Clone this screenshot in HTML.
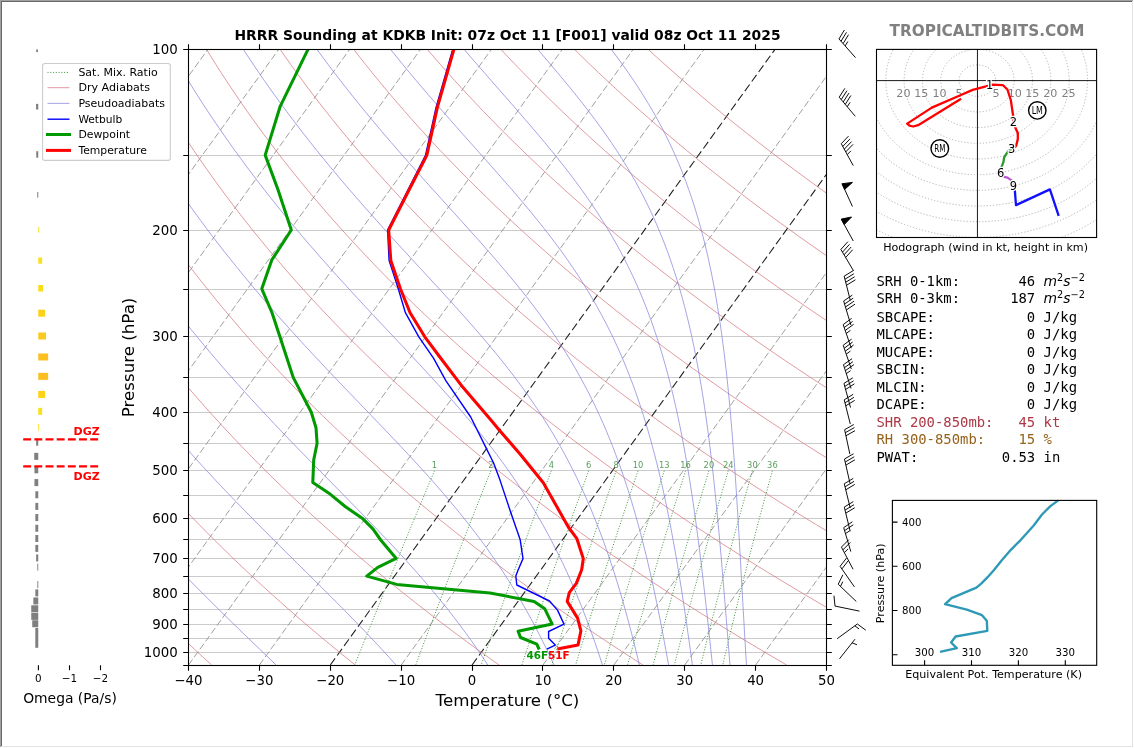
<!DOCTYPE html>
<html><head><meta charset="utf-8"><title>HRRR Sounding at KDKB</title>
<style>
html,body{margin:0;padding:0;background:#fff;}
body{width:1134px;height:748px;position:relative;overflow:hidden;font-family:"DejaVu Sans","Liberation Sans",sans-serif;}
.fr{position:absolute;background:#fff}
</style></head><body>
<div class="fr" style="left:0;top:0;width:1134px;height:748px;background:#ffffff"></div>
<div class="fr" style="left:0;top:0;width:1133px;height:747px;background:#a0a0a0"></div>
<div class="fr" style="left:1px;top:1px;width:1132px;height:746px;background:#e3e3e3"></div>
<div class="fr" style="left:1px;top:1px;width:1131px;height:745px;background:#696969"></div>
<div class="fr" style="left:2px;top:2px;width:1130px;height:744px;background:#ffffff"></div>
<svg width="1134" height="748" viewBox="0 0 1134 748" style="position:absolute;left:0;top:0;will-change:transform">
<defs><clipPath id="cm"><rect x="188.50" y="49.15" width="638.00" height="615.88"/></clipPath></defs>
<g clip-path="url(#cm)" fill="none">
<line x1="188.50" y1="155.50" x2="826.50" y2="155.50" stroke="#cbcbcb" stroke-width="1"/>
<line x1="188.50" y1="230.50" x2="826.50" y2="230.50" stroke="#cbcbcb" stroke-width="1"/>
<line x1="188.50" y1="289.50" x2="826.50" y2="289.50" stroke="#cbcbcb" stroke-width="1"/>
<line x1="188.50" y1="336.50" x2="826.50" y2="336.50" stroke="#cbcbcb" stroke-width="1"/>
<line x1="188.50" y1="377.50" x2="826.50" y2="377.50" stroke="#cbcbcb" stroke-width="1"/>
<line x1="188.50" y1="412.50" x2="826.50" y2="412.50" stroke="#cbcbcb" stroke-width="1"/>
<line x1="188.50" y1="443.50" x2="826.50" y2="443.50" stroke="#cbcbcb" stroke-width="1"/>
<line x1="188.50" y1="470.50" x2="826.50" y2="470.50" stroke="#cbcbcb" stroke-width="1"/>
<line x1="188.50" y1="495.50" x2="826.50" y2="495.50" stroke="#cbcbcb" stroke-width="1"/>
<line x1="188.50" y1="518.50" x2="826.50" y2="518.50" stroke="#cbcbcb" stroke-width="1"/>
<line x1="188.50" y1="539.50" x2="826.50" y2="539.50" stroke="#cbcbcb" stroke-width="1"/>
<line x1="188.50" y1="558.50" x2="826.50" y2="558.50" stroke="#cbcbcb" stroke-width="1"/>
<line x1="188.50" y1="576.50" x2="826.50" y2="576.50" stroke="#cbcbcb" stroke-width="1"/>
<line x1="188.50" y1="593.50" x2="826.50" y2="593.50" stroke="#cbcbcb" stroke-width="1"/>
<line x1="188.50" y1="609.50" x2="826.50" y2="609.50" stroke="#cbcbcb" stroke-width="1"/>
<line x1="188.50" y1="624.50" x2="826.50" y2="624.50" stroke="#cbcbcb" stroke-width="1"/>
<line x1="188.50" y1="638.50" x2="826.50" y2="638.50" stroke="#cbcbcb" stroke-width="1"/>
<line x1="188.50" y1="652.50" x2="826.50" y2="652.50" stroke="#cbcbcb" stroke-width="1"/>
<line x1="-307.72" y1="665.03" x2="137.13" y2="49.15" stroke="#8f8f8f" stroke-width="0.85" stroke-dasharray="6.9 2.8"/>
<line x1="-236.83" y1="665.03" x2="208.02" y2="49.15" stroke="#8f8f8f" stroke-width="0.85" stroke-dasharray="6.9 2.8"/>
<line x1="-165.94" y1="665.03" x2="278.91" y2="49.15" stroke="#8f8f8f" stroke-width="0.85" stroke-dasharray="6.9 2.8"/>
<line x1="-95.06" y1="665.03" x2="349.79" y2="49.15" stroke="#8f8f8f" stroke-width="0.85" stroke-dasharray="6.9 2.8"/>
<line x1="-24.17" y1="665.03" x2="420.68" y2="49.15" stroke="#8f8f8f" stroke-width="0.85" stroke-dasharray="6.9 2.8"/>
<line x1="46.72" y1="665.03" x2="491.57" y2="49.15" stroke="#8f8f8f" stroke-width="0.85" stroke-dasharray="6.9 2.8"/>
<line x1="117.61" y1="665.03" x2="562.46" y2="49.15" stroke="#8f8f8f" stroke-width="0.85" stroke-dasharray="6.9 2.8"/>
<line x1="188.50" y1="665.03" x2="633.35" y2="49.15" stroke="#8f8f8f" stroke-width="0.85" stroke-dasharray="6.9 2.8"/>
<line x1="259.39" y1="665.03" x2="704.24" y2="49.15" stroke="#8f8f8f" stroke-width="0.85" stroke-dasharray="6.9 2.8"/>
<line x1="330.28" y1="665.03" x2="775.13" y2="49.15" stroke="#202020" stroke-width="1.08" stroke-dasharray="8.2 3.6"/>
<line x1="401.17" y1="665.03" x2="846.02" y2="49.15" stroke="#8f8f8f" stroke-width="0.85" stroke-dasharray="6.9 2.8"/>
<line x1="472.06" y1="665.03" x2="916.91" y2="49.15" stroke="#202020" stroke-width="1.08" stroke-dasharray="8.2 3.6"/>
<line x1="542.94" y1="665.03" x2="987.79" y2="49.15" stroke="#8f8f8f" stroke-width="0.85" stroke-dasharray="6.9 2.8"/>
<line x1="613.83" y1="665.03" x2="1058.68" y2="49.15" stroke="#8f8f8f" stroke-width="0.85" stroke-dasharray="6.9 2.8"/>
<line x1="684.72" y1="665.03" x2="1129.57" y2="49.15" stroke="#8f8f8f" stroke-width="0.85" stroke-dasharray="6.9 2.8"/>
<line x1="755.61" y1="665.03" x2="1200.46" y2="49.15" stroke="#8f8f8f" stroke-width="0.85" stroke-dasharray="6.9 2.8"/>
<line x1="826.50" y1="665.03" x2="1271.35" y2="49.15" stroke="#8f8f8f" stroke-width="0.85" stroke-dasharray="6.9 2.8"/>
<polyline points="211.63,665.03 203.11,657.23 194.72,649.44 186.44,641.64 178.28,633.85 170.23,626.05 162.31,618.25 154.49,610.46 146.79,602.66 139.20,594.87 131.73,587.07 124.36,579.27 117.11,571.48 109.96,563.68 102.92,555.89 95.99,548.09 89.16,540.29 82.44,532.50 75.82,524.70 69.31,516.91 62.90,509.11 56.59,501.32 50.38,493.52 44.27,485.72 38.26,477.93 32.35,470.13 26.54,462.34 20.82,454.54 15.20,446.74 9.67,438.95 4.24,431.15 -1.10,423.36 -6.34,415.56 -11.50,407.76 -16.56,399.97 -21.53,392.17 -26.42,384.38 -31.21,376.58 -35.92,368.78 -40.54,360.99 -45.07,353.19 -49.52,345.40 -53.88,337.60 -58.16,329.80 -62.35,322.01 -66.47,314.21 -70.49,306.42 -74.44,298.62 -78.31,290.82 -82.09,283.03 -85.80,275.23 -89.43,267.44 -92.98,259.64 -96.45,251.84 -99.85,244.05 -103.17,236.25 -106.41,228.46 -109.58,220.66 -112.68,212.86 -115.70,205.07 -118.64,197.27 -121.52,189.48 -124.32,181.68 -127.06,173.89 -129.72,166.09 -132.31,158.29 -134.83,150.50 -137.29,142.70 -139.67,134.91 -141.99,127.11 -144.24,119.31 -146.42,111.52 -148.54,103.72 -150.60,95.93 -152.58,88.13 -154.51,80.33 -156.37,72.54 -158.16,64.74 -159.90,56.95 -161.57,49.15" stroke="#d4737a" stroke-width="0.72"/>
<polyline points="355.39,665.03 345.66,657.23 336.06,649.44 326.59,641.64 317.25,633.85 308.03,626.05 298.94,618.25 289.97,610.46 281.13,602.66 272.41,594.87 263.80,587.07 255.32,579.27 246.96,571.48 238.72,563.68 230.59,555.89 222.58,548.09 214.69,540.29 206.91,532.50 199.24,524.70 191.69,516.91 184.24,509.11 176.91,501.32 169.68,493.52 162.57,485.72 155.56,477.93 148.66,470.13 141.86,462.34 135.17,454.54 128.59,446.74 122.10,438.95 115.72,431.15 109.44,423.36 103.26,415.56 97.18,407.76 91.20,399.97 85.32,392.17 79.53,384.38 73.84,376.58 68.25,368.78 62.75,360.99 57.35,353.19 52.04,345.40 46.82,337.60 41.69,329.80 36.65,322.01 31.70,314.21 26.85,306.42 22.08,298.62 17.40,290.82 12.80,283.03 8.29,275.23 3.87,267.44 -0.47,259.64 -4.72,251.84 -8.89,244.05 -12.98,236.25 -16.98,228.46 -20.91,220.66 -24.75,212.86 -28.51,205.07 -32.20,197.27 -35.80,189.48 -39.33,181.68 -42.78,173.89 -46.15,166.09 -49.45,158.29 -52.67,150.50 -55.82,142.70 -58.89,134.91 -61.89,127.11 -64.82,119.31 -67.67,111.52 -70.46,103.72 -73.17,95.93 -75.81,88.13 -78.38,80.33 -80.88,72.54 -83.32,64.74 -85.68,56.95 -87.98,49.15" stroke="#d4737a" stroke-width="0.72"/>
<polyline points="499.15,665.03 488.21,657.23 477.40,649.44 466.74,641.64 456.21,633.85 445.83,626.05 435.57,618.25 425.45,610.46 415.46,602.66 405.61,594.87 395.88,587.07 386.29,579.27 376.82,571.48 367.48,563.68 358.27,555.89 349.18,548.09 340.22,540.29 331.38,532.50 322.66,524.70 314.06,516.91 305.58,509.11 297.23,501.32 288.99,493.52 280.86,485.72 272.86,477.93 264.97,470.13 257.19,462.34 249.53,454.54 241.97,446.74 234.53,438.95 227.20,431.15 219.98,423.36 212.87,415.56 205.86,407.76 198.97,399.97 192.17,392.17 185.49,384.38 178.90,376.58 172.42,368.78 166.04,360.99 159.77,353.19 153.59,345.40 147.51,337.60 141.54,329.80 135.66,322.01 129.87,314.21 124.19,306.42 118.60,298.62 113.10,290.82 107.70,283.03 102.39,275.23 97.17,267.44 92.05,259.64 87.01,251.84 82.07,244.05 77.21,236.25 72.45,228.46 67.77,220.66 63.18,212.86 58.67,205.07 54.25,197.27 49.92,189.48 45.67,181.68 41.50,173.89 37.41,166.09 33.41,158.29 29.49,150.50 25.65,142.70 21.89,134.91 18.21,127.11 14.60,119.31 11.08,111.52 7.63,103.72 4.26,95.93 0.96,88.13 -2.26,80.33 -5.40,72.54 -8.47,64.74 -11.47,56.95 -14.39,49.15" stroke="#d4737a" stroke-width="0.72"/>
<polyline points="642.91,665.03 630.76,657.23 618.75,649.44 606.89,641.64 595.18,633.85 583.62,626.05 572.20,618.25 560.93,610.46 549.80,602.66 538.81,594.87 527.96,587.07 517.25,579.27 506.68,571.48 496.24,563.68 485.94,555.89 475.78,548.09 465.74,540.29 455.84,532.50 446.08,524.70 436.44,516.91 426.93,509.11 417.55,501.32 408.29,493.52 399.16,485.72 390.16,477.93 381.27,470.13 372.51,462.34 363.88,454.54 355.36,446.74 346.96,438.95 338.68,431.15 330.52,423.36 322.48,415.56 314.55,407.76 306.73,399.97 299.03,392.17 291.44,384.38 283.96,376.58 276.59,368.78 269.34,360.99 262.19,353.19 255.15,345.40 248.21,337.60 241.38,329.80 234.66,322.01 228.04,314.21 221.53,306.42 215.12,298.62 208.81,290.82 202.60,283.03 196.49,275.23 190.47,267.44 184.56,259.64 178.75,251.84 173.03,244.05 167.41,236.25 161.88,228.46 156.44,220.66 151.10,212.86 145.86,205.07 140.70,197.27 135.64,189.48 130.66,181.68 125.78,173.89 120.98,166.09 116.27,158.29 111.65,150.50 107.12,142.70 102.67,134.91 98.30,127.11 94.03,119.31 89.83,111.52 85.72,103.72 81.69,95.93 77.74,88.13 73.87,80.33 70.08,72.54 66.38,64.74 62.75,56.95 59.19,49.15" stroke="#d4737a" stroke-width="0.72"/>
<polyline points="786.67,665.03 773.30,657.23 760.09,649.44 747.04,641.64 734.15,633.85 721.42,626.05 708.84,618.25 696.41,610.46 684.13,602.66 672.01,594.87 660.04,587.07 648.21,579.27 636.53,571.48 625.00,563.68 613.62,555.89 602.37,548.09 591.27,540.29 580.31,532.50 569.49,524.70 558.81,516.91 548.27,509.11 537.86,501.32 527.59,493.52 517.46,485.72 507.45,477.93 497.58,470.13 487.84,462.34 478.23,454.54 468.75,446.74 459.39,438.95 450.16,431.15 441.06,423.36 432.08,415.56 423.23,407.76 414.49,399.97 405.88,392.17 397.39,384.38 389.02,376.58 380.76,368.78 372.63,360.99 364.61,353.19 356.70,345.40 348.91,337.60 341.23,329.80 333.67,322.01 326.21,314.21 318.87,306.42 311.64,298.62 304.51,290.82 297.49,283.03 290.58,275.23 283.78,267.44 277.08,259.64 270.48,251.84 263.99,244.05 257.60,236.25 251.31,228.46 245.12,220.66 239.03,212.86 233.04,205.07 227.15,197.27 221.35,189.48 215.66,181.68 210.05,173.89 204.55,166.09 199.13,158.29 193.81,150.50 188.58,142.70 183.45,134.91 178.40,127.11 173.45,119.31 168.58,111.52 163.80,103.72 159.12,95.93 154.51,88.13 150.00,80.33 145.57,72.54 141.22,64.74 136.96,56.95 132.78,49.15" stroke="#d4737a" stroke-width="0.72"/>
<polyline points="930.43,665.03 915.85,657.23 901.44,649.44 887.20,641.64 873.12,633.85 859.21,626.05 845.47,618.25 831.89,610.46 818.47,602.66 805.21,594.87 792.11,587.07 779.17,579.27 766.39,571.48 753.76,563.68 741.29,555.89 728.97,548.09 716.80,540.29 704.78,532.50 692.91,524.70 681.19,516.91 669.61,509.11 658.18,501.32 646.90,493.52 635.75,485.72 624.75,477.93 613.89,470.13 603.17,462.34 592.58,454.54 582.13,446.74 571.82,438.95 561.64,431.15 551.60,423.36 541.69,415.56 531.91,407.76 522.26,399.97 512.74,392.17 503.34,384.38 494.08,376.58 484.94,368.78 475.92,360.99 467.03,353.19 458.26,345.40 449.61,337.60 441.08,329.80 432.67,322.01 424.38,314.21 416.21,306.42 408.16,298.62 400.21,290.82 392.39,283.03 384.68,275.23 377.08,267.44 369.59,259.64 362.21,251.84 354.95,244.05 347.79,236.25 340.74,228.46 333.79,220.66 326.96,212.86 320.22,205.07 313.60,197.27 307.07,189.48 300.65,181.68 294.33,173.89 288.11,166.09 281.99,158.29 275.97,150.50 270.05,142.70 264.23,134.91 258.50,127.11 252.87,119.31 247.33,111.52 241.89,103.72 236.54,95.93 231.29,88.13 226.12,80.33 221.05,72.54 216.07,64.74 211.18,56.95 206.37,49.15" stroke="#d4737a" stroke-width="0.72"/>
<polyline points="1074.20,665.03 1058.40,657.23 1042.78,649.44 1027.35,641.64 1012.09,633.85 997.01,626.05 982.10,618.25 967.37,610.46 952.81,602.66 938.41,594.87 924.19,587.07 910.14,579.27 896.25,571.48 882.52,563.68 868.96,555.89 855.57,548.09 842.33,540.29 829.25,532.50 816.33,524.70 803.56,516.91 790.96,509.11 778.50,501.32 766.20,493.52 754.05,485.72 742.05,477.93 730.20,470.13 718.49,462.34 706.93,454.54 695.52,446.74 684.25,438.95 673.12,431.15 662.14,423.36 651.30,415.56 640.59,407.76 630.02,399.97 619.59,392.17 609.30,384.38 599.13,376.58 589.11,368.78 579.21,360.99 569.45,353.19 559.81,345.40 550.31,337.60 540.93,329.80 531.68,322.01 522.55,314.21 513.55,306.42 504.67,298.62 495.92,290.82 487.29,283.03 478.77,275.23 470.38,267.44 462.10,259.64 453.95,251.84 445.90,244.05 437.98,236.25 430.17,228.46 422.47,220.66 414.88,212.86 407.41,205.07 400.04,197.27 392.79,189.48 385.65,181.68 378.61,173.89 371.68,166.09 364.85,158.29 358.13,150.50 351.52,142.70 345.01,134.91 338.60,127.11 332.29,119.31 326.09,111.52 319.98,103.72 313.97,95.93 308.06,88.13 302.25,80.33 296.53,72.54 290.91,64.74 285.39,56.95 279.96,49.15" stroke="#d4737a" stroke-width="0.72"/>
<polyline points="1217.96,665.03 1200.95,657.23 1184.13,649.44 1167.50,641.64 1151.06,633.85 1134.80,626.05 1118.73,618.25 1102.85,610.46 1087.14,602.66 1071.62,594.87 1056.27,587.07 1041.10,579.27 1026.11,571.48 1011.29,563.68 996.64,555.89 982.16,548.09 967.86,540.29 953.72,532.50 939.75,524.70 925.94,516.91 912.30,509.11 898.82,501.32 885.50,493.52 872.34,485.72 859.34,477.93 846.50,470.13 833.82,462.34 821.28,454.54 808.91,446.74 796.68,438.95 784.61,431.15 772.68,423.36 760.90,415.56 749.27,407.76 737.79,399.97 726.45,392.17 715.25,384.38 704.19,376.58 693.28,368.78 682.50,360.99 671.87,353.19 661.37,345.40 651.01,337.60 640.78,329.80 630.68,322.01 620.72,314.21 610.89,306.42 601.19,298.62 591.62,290.82 582.18,283.03 572.87,275.23 563.68,267.44 554.62,259.64 545.68,251.84 536.86,244.05 528.17,236.25 519.60,228.46 511.14,220.66 502.81,212.86 494.59,205.07 486.49,197.27 478.51,189.48 470.64,181.68 462.89,173.89 455.24,166.09 447.71,158.29 440.30,150.50 432.99,142.70 425.79,134.91 418.70,127.11 411.71,119.31 404.84,111.52 398.07,103.72 391.40,95.93 384.84,88.13 378.38,80.33 372.02,72.54 365.76,64.74 359.60,56.95 353.55,49.15" stroke="#d4737a" stroke-width="0.72"/>
<polyline points="1361.72,665.03 1343.50,657.23 1325.47,649.44 1307.65,641.64 1290.03,633.85 1272.60,626.05 1255.37,618.25 1238.33,610.46 1221.48,602.66 1204.82,594.87 1188.35,587.07 1172.06,579.27 1155.96,571.48 1140.05,563.68 1124.31,555.89 1108.76,548.09 1093.38,540.29 1078.19,532.50 1063.16,524.70 1048.32,516.91 1033.64,509.11 1019.14,501.32 1004.80,493.52 990.64,485.72 976.64,477.93 962.81,470.13 949.14,462.34 935.64,454.54 922.29,446.74 909.11,438.95 896.09,431.15 883.22,423.36 870.51,415.56 857.95,407.76 845.55,399.97 833.30,392.17 821.20,384.38 809.25,376.58 797.45,368.78 785.80,360.99 774.29,353.19 762.92,345.40 751.70,337.60 740.63,329.80 729.69,322.01 718.89,314.21 708.23,306.42 697.71,298.62 687.33,290.82 677.08,283.03 666.96,275.23 656.98,267.44 647.13,259.64 637.41,251.84 627.82,244.05 618.36,236.25 609.03,228.46 599.82,220.66 590.74,212.86 581.78,205.07 572.94,197.27 564.23,189.48 555.64,181.68 547.16,173.89 538.81,166.09 530.58,158.29 522.46,150.50 514.46,142.70 506.57,134.91 498.80,127.11 491.14,119.31 483.59,111.52 476.15,103.72 468.83,95.93 461.61,88.13 454.50,80.33 447.50,72.54 440.61,64.74 433.82,56.95 427.14,49.15" stroke="#d4737a" stroke-width="0.72"/>
<polyline points="1505.48,665.03 1486.04,657.23 1466.82,649.44 1447.80,641.64 1429.00,633.85 1410.39,626.05 1392.00,618.25 1373.80,610.46 1355.81,602.66 1338.02,594.87 1320.42,587.07 1303.02,579.27 1285.82,571.48 1268.81,563.68 1251.99,555.89 1235.35,548.09 1218.91,540.29 1202.65,532.50 1186.58,524.70 1170.69,516.91 1154.98,509.11 1139.46,501.32 1124.11,493.52 1108.94,485.72 1093.94,477.93 1079.12,470.13 1064.47,462.34 1049.99,454.54 1035.68,446.74 1021.54,438.95 1007.57,431.15 993.76,423.36 980.11,415.56 966.63,407.76 953.31,399.97 940.15,392.17 927.15,384.38 914.31,376.58 901.62,368.78 889.09,360.99 876.71,353.19 864.48,345.40 852.40,337.60 840.47,329.80 828.69,322.01 817.06,314.21 805.58,306.42 794.23,298.62 783.03,290.82 771.98,283.03 761.06,275.23 750.28,267.44 739.65,259.64 729.15,251.84 718.78,244.05 708.55,236.25 698.46,228.46 688.49,220.66 678.66,212.86 668.96,205.07 659.39,197.27 649.95,189.48 640.63,181.68 631.44,173.89 622.38,166.09 613.44,158.29 604.62,150.50 595.92,142.70 587.35,134.91 578.89,127.11 570.56,119.31 562.34,111.52 554.24,103.72 546.25,95.93 538.38,88.13 530.63,80.33 522.98,72.54 515.45,64.74 508.03,56.95 500.72,49.15" stroke="#d4737a" stroke-width="0.72"/>
<polyline points="1649.24,665.03 1628.59,657.23 1608.16,649.44 1587.96,641.64 1567.96,633.85 1548.19,626.05 1528.63,618.25 1509.28,610.46 1490.15,602.66 1471.22,594.87 1452.50,587.07 1433.99,579.27 1415.68,571.48 1397.57,563.68 1379.66,555.89 1361.95,548.09 1344.44,540.29 1327.12,532.50 1310.00,524.70 1293.07,516.91 1276.33,509.11 1259.77,501.32 1243.41,493.52 1227.23,485.72 1211.24,477.93 1195.42,470.13 1179.79,462.34 1164.34,454.54 1149.07,446.74 1133.97,438.95 1119.05,431.15 1104.30,423.36 1089.72,415.56 1075.32,407.76 1061.08,399.97 1047.01,392.17 1033.11,384.38 1019.37,376.58 1005.79,368.78 992.38,360.99 979.13,353.19 966.03,345.40 953.10,337.60 940.32,329.80 927.70,322.01 915.23,314.21 902.92,306.42 890.75,298.62 878.74,290.82 866.87,283.03 855.16,275.23 843.59,267.44 832.16,259.64 820.88,251.84 809.74,244.05 798.74,236.25 787.89,228.46 777.17,220.66 766.59,212.86 756.14,205.07 745.84,197.27 735.66,189.48 725.63,181.68 715.72,173.89 705.94,166.09 696.30,158.29 686.78,150.50 677.39,142.70 668.13,134.91 658.99,127.11 649.98,119.31 641.09,111.52 632.33,103.72 623.68,95.93 615.16,88.13 606.75,80.33 598.47,72.54 590.30,64.74 582.25,56.95 574.31,49.15" stroke="#d4737a" stroke-width="0.72"/>
<polyline points="1793.00,665.03 1771.14,657.23 1749.51,649.44 1728.11,641.64 1706.93,633.85 1685.99,626.05 1665.26,618.25 1644.76,610.46 1624.48,602.66 1604.42,594.87 1584.58,587.07 1564.95,579.27 1545.53,571.48 1526.33,563.68 1507.33,555.89 1488.55,548.09 1469.97,540.29 1451.59,532.50 1433.42,524.70 1415.44,516.91 1397.67,509.11 1380.09,501.32 1362.71,493.52 1345.53,485.72 1328.53,477.93 1311.73,470.13 1295.12,462.34 1278.69,454.54 1262.45,446.74 1246.40,438.95 1230.53,431.15 1214.84,423.36 1199.33,415.56 1184.00,407.76 1168.84,399.97 1153.86,392.17 1139.06,384.38 1124.42,376.58 1109.96,368.78 1095.67,360.99 1081.55,353.19 1067.59,345.40 1053.80,337.60 1040.17,329.80 1026.71,322.01 1013.40,314.21 1000.26,306.42 987.27,298.62 974.44,290.82 961.77,283.03 949.25,275.23 936.89,267.44 924.67,259.64 912.61,251.84 900.70,244.05 888.93,236.25 877.31,228.46 865.84,220.66 854.51,212.86 843.33,205.07 832.29,197.27 821.38,189.48 810.62,181.68 800.00,173.89 789.51,166.09 779.16,158.29 768.94,150.50 758.86,142.70 748.91,134.91 739.09,127.11 729.40,119.31 719.84,111.52 710.41,103.72 701.11,95.93 691.93,88.13 682.88,80.33 673.95,72.54 665.15,64.74 656.46,56.95 647.90,49.15" stroke="#d4737a" stroke-width="0.72"/>
<polyline points="276.13,665.03 268.03,657.23 259.93,649.44 251.85,641.64 243.78,633.85 235.75,626.05 227.75,618.25 219.81,610.46 211.92,602.66 204.09,594.87 196.33,587.07 188.64,579.27 181.03,571.48 173.51,563.68 166.07,555.89 158.72,548.09 151.46,540.29 144.29,532.50 137.22,524.70 130.24,516.91 123.36,509.11 116.58,501.32 109.89,493.52 103.31,485.72 96.82,477.93 90.43,470.13 84.14,462.34 77.95,454.54 71.86,446.74 65.86,438.95 59.96,431.15 54.15,423.36 48.45,415.56 42.83,407.76 37.31,399.97 31.89,392.17 26.55,384.38 21.31,376.58 16.16,368.78 11.10,360.99 6.14,353.19 1.26,345.40 -3.53,337.60 -8.24,329.80 -12.85,322.01 -17.38,314.21 -21.82,306.42 -26.18,298.62 -30.46,290.82 -34.65,283.03 -38.75,275.23 -42.78,267.44 -46.72,259.64 -50.59,251.84 -54.37,244.05 -58.07,236.25 -61.70,228.46 -65.24,220.66 -68.71,212.86 -72.10,205.07 -75.42,197.27 -78.66,189.48 -81.83,181.68 -84.92,173.89 -87.94,166.09 -90.88,158.29 -93.75,150.50 -96.55,142.70 -99.28,134.91 -101.94,127.11 -104.53,119.31 -107.05,111.52 -109.50,103.72 -111.88,95.93 -114.20,88.13 -116.44,80.33 -118.63,72.54 -120.74,64.74 -122.79,56.95 -124.78,49.15" stroke="#8080dc" stroke-width="0.72"/>
<polyline points="396.06,665.03 389.05,657.23 381.91,649.44 374.65,641.64 367.28,633.85 359.80,626.05 352.23,618.25 344.58,610.46 336.86,602.66 329.08,594.87 321.26,587.07 313.41,579.27 305.54,571.48 297.67,563.68 289.80,555.89 281.94,548.09 274.12,540.29 266.32,532.50 258.58,524.70 250.88,516.91 243.24,509.11 235.67,501.32 228.18,493.52 220.75,485.72 213.41,477.93 206.16,470.13 198.99,462.34 191.91,454.54 184.92,446.74 178.02,438.95 171.22,431.15 164.52,423.36 157.91,415.56 151.40,407.76 144.98,399.97 138.66,392.17 132.44,384.38 126.32,376.58 120.30,368.78 114.37,360.99 108.53,353.19 102.79,345.40 97.15,337.60 91.60,329.80 86.14,322.01 80.78,314.21 75.51,306.42 70.33,298.62 65.25,290.82 60.25,283.03 55.34,275.23 50.52,267.44 45.79,259.64 41.15,251.84 36.59,244.05 32.12,236.25 27.73,228.46 23.43,220.66 19.21,212.86 15.08,205.07 11.03,197.27 7.06,189.48 3.17,181.68 -0.64,173.89 -4.37,166.09 -8.02,158.29 -11.59,150.50 -15.08,142.70 -18.50,134.91 -21.84,127.11 -25.11,119.31 -28.30,111.52 -31.41,103.72 -34.45,95.93 -37.42,88.13 -40.32,80.33 -43.14,72.54 -45.89,64.74 -48.58,56.95 -51.19,49.15" stroke="#8080dc" stroke-width="0.72"/>
<polyline points="487.82,665.03 482.69,657.23 477.40,649.44 471.96,641.64 466.37,633.85 460.61,626.05 454.70,618.25 448.63,610.46 442.40,602.66 436.01,594.87 429.47,587.07 422.79,579.27 415.96,571.48 409.01,563.68 401.92,555.89 394.73,548.09 387.43,540.29 380.03,532.50 372.56,524.70 365.02,516.91 357.43,509.11 349.79,501.32 342.13,493.52 334.46,485.72 326.78,477.93 319.11,470.13 311.46,462.34 303.85,454.54 296.27,446.74 288.74,438.95 281.27,431.15 273.86,423.36 266.52,415.56 259.25,407.76 252.06,399.97 244.95,392.17 237.93,384.38 231.00,376.58 224.15,368.78 217.40,360.99 210.74,353.19 204.18,345.40 197.71,337.60 191.34,329.80 185.06,322.01 178.88,314.21 172.80,306.42 166.81,298.62 160.91,290.82 155.12,283.03 149.41,275.23 143.80,267.44 138.29,259.64 132.87,251.84 127.54,244.05 122.30,236.25 117.16,228.46 112.10,220.66 107.14,212.86 102.26,205.07 97.47,197.27 92.77,189.48 88.16,181.68 83.64,173.89 79.20,166.09 74.84,158.29 70.57,150.50 66.38,142.70 62.28,134.91 58.26,127.11 54.31,119.31 50.45,111.52 46.67,103.72 42.97,95.93 39.35,88.13 35.81,80.33 32.34,72.54 28.95,64.74 25.64,56.95 22.40,49.15" stroke="#8080dc" stroke-width="0.72"/>
<polyline points="553.99,665.03 550.40,657.23 546.71,649.44 542.90,641.64 538.98,633.85 534.93,626.05 530.76,618.25 526.45,610.46 522.00,602.66 517.42,594.87 512.68,587.07 507.79,579.27 502.75,571.48 497.54,563.68 492.18,555.89 486.65,548.09 480.95,540.29 475.09,532.50 469.07,524.70 462.89,516.91 456.55,509.11 450.06,501.32 443.42,493.52 436.64,485.72 429.74,477.93 422.72,470.13 415.59,462.34 408.37,454.54 401.07,446.74 393.70,438.95 386.28,431.15 378.82,423.36 371.33,415.56 363.83,407.76 356.33,399.97 348.84,392.17 341.38,384.38 333.94,376.58 326.55,368.78 319.21,360.99 311.92,353.19 304.70,345.40 297.56,337.60 290.48,329.80 283.49,322.01 276.57,314.21 269.75,306.42 263.01,298.62 256.36,290.82 249.80,283.03 243.34,275.23 236.97,267.44 230.69,259.64 224.51,251.84 218.43,244.05 212.44,236.25 206.54,228.46 200.74,220.66 195.04,212.86 189.42,205.07 183.91,197.27 178.48,189.48 173.15,181.68 167.91,173.89 162.76,166.09 157.70,158.29 152.73,150.50 147.85,142.70 143.06,134.91 138.35,127.11 133.74,119.31 129.21,111.52 124.76,103.72 120.40,95.93 116.13,88.13 111.93,80.33 107.82,72.54 103.80,64.74 99.85,56.95 95.99,49.15" stroke="#8080dc" stroke-width="0.72"/>
<polyline points="602.47,665.03 599.92,657.23 597.31,649.44 594.63,641.64 591.87,633.85 589.03,626.05 586.11,618.25 583.11,610.46 580.01,602.66 576.81,594.87 573.51,587.07 570.10,579.27 566.58,571.48 562.94,563.68 559.18,555.89 555.28,548.09 551.26,540.29 547.09,532.50 542.78,524.70 538.31,516.91 533.70,509.11 528.92,501.32 523.98,493.52 518.87,485.72 513.60,477.93 508.15,470.13 502.54,462.34 496.75,454.54 490.80,446.74 484.69,438.95 478.41,431.15 471.99,423.36 465.42,415.56 458.72,407.76 451.89,399.97 444.95,392.17 437.91,384.38 430.79,376.58 423.59,368.78 416.34,360.99 409.04,353.19 401.72,345.40 394.38,337.60 387.04,329.80 379.70,322.01 372.39,314.21 365.11,306.42 357.87,298.62 350.69,290.82 343.55,283.03 336.49,275.23 329.49,267.44 322.56,259.64 315.72,251.84 308.95,244.05 302.28,236.25 295.69,228.46 289.18,220.66 282.77,212.86 276.46,205.07 270.23,197.27 264.10,189.48 258.07,181.68 252.12,173.89 246.27,166.09 240.52,158.29 234.86,150.50 229.29,142.70 223.82,134.91 218.44,127.11 213.15,119.31 207.95,111.52 202.84,103.72 197.82,95.93 192.90,88.13 188.06,80.33 183.31,72.54 178.64,64.74 174.07,56.95 169.58,49.15" stroke="#8080dc" stroke-width="0.72"/>
<polyline points="639.39,665.03 637.53,657.23 635.63,649.44 633.69,641.64 631.70,633.85 629.67,626.05 627.58,618.25 625.44,610.46 623.24,602.66 620.98,594.87 618.66,587.07 616.26,579.27 613.80,571.48 611.25,563.68 608.63,555.89 605.92,548.09 603.12,540.29 600.22,532.50 597.23,524.70 594.12,516.91 590.91,509.11 587.58,501.32 584.13,493.52 580.55,485.72 576.83,477.93 572.98,470.13 568.98,462.34 564.83,454.54 560.53,446.74 556.07,438.95 551.44,431.15 546.64,423.36 541.67,415.56 536.53,407.76 531.21,399.97 525.72,392.17 520.06,384.38 514.22,376.58 508.22,368.78 502.06,360.99 495.74,353.19 489.28,345.40 482.68,337.60 475.96,329.80 469.14,322.01 462.21,314.21 455.20,306.42 448.13,298.62 441.00,290.82 433.84,283.03 426.65,275.23 419.45,267.44 412.26,259.64 405.08,251.84 397.92,244.05 390.80,236.25 383.73,228.46 376.71,220.66 369.75,212.86 362.86,205.07 356.04,197.27 349.30,189.48 342.64,181.68 336.06,173.89 329.56,166.09 323.16,158.29 316.84,150.50 310.62,142.70 304.49,134.91 298.45,127.11 292.50,119.31 286.65,111.52 280.89,103.72 275.22,95.93 269.65,88.13 264.17,80.33 258.78,72.54 253.48,64.74 248.28,56.95 243.17,49.15" stroke="#8080dc" stroke-width="0.72"/>
<polyline points="668.57,665.03 667.18,657.23 665.76,649.44 664.32,641.64 662.86,633.85 661.36,626.05 659.84,618.25 658.28,610.46 656.69,602.66 655.06,594.87 653.39,587.07 651.67,579.27 649.92,571.48 648.11,563.68 646.25,555.89 644.34,548.09 642.37,540.29 640.34,532.50 638.24,524.70 636.08,516.91 633.84,509.11 631.53,501.32 629.13,493.52 626.65,485.72 624.08,477.93 621.41,470.13 618.64,462.34 615.76,454.54 612.78,446.74 609.67,438.95 606.45,431.15 603.09,423.36 599.60,415.56 595.97,407.76 592.19,399.97 588.26,392.17 584.17,384.38 579.92,376.58 575.50,368.78 570.91,360.99 566.15,353.19 561.20,345.40 556.08,337.60 550.78,329.80 545.30,322.01 539.65,314.21 533.82,306.42 527.83,298.62 521.68,290.82 515.38,283.03 508.94,275.23 502.37,267.44 495.69,259.64 488.91,251.84 482.04,244.05 475.11,236.25 468.12,228.46 461.09,220.66 454.03,212.86 446.97,205.07 439.90,197.27 432.85,189.48 425.83,181.68 418.84,173.89 411.90,166.09 405.01,158.29 398.18,150.50 391.42,142.70 384.73,134.91 378.12,127.11 371.59,119.31 365.14,111.52 358.78,103.72 352.50,95.93 346.31,88.13 340.22,80.33 334.21,72.54 328.30,64.74 322.48,56.95 316.75,49.15" stroke="#8080dc" stroke-width="0.72"/>
<polyline points="692.38,665.03 691.32,657.23 690.25,649.44 689.16,641.64 688.06,633.85 686.95,626.05 685.81,618.25 684.66,610.46 683.49,602.66 682.30,594.87 681.08,587.07 679.84,579.27 678.57,571.48 677.27,563.68 675.94,555.89 674.57,548.09 673.17,540.29 671.73,532.50 670.25,524.70 668.73,516.91 667.16,509.11 665.54,501.32 663.87,493.52 662.14,485.72 660.35,477.93 658.50,470.13 656.58,462.34 654.59,454.54 652.53,446.74 650.39,438.95 648.17,431.15 645.86,423.36 643.45,415.56 640.95,407.76 638.34,399.97 635.63,392.17 632.80,384.38 629.85,376.58 626.77,368.78 623.57,360.99 620.22,353.19 616.73,345.40 613.09,337.60 609.29,329.80 605.33,322.01 601.20,314.21 596.90,306.42 592.43,298.62 587.77,290.82 582.93,283.03 577.91,275.23 572.71,267.44 567.32,259.64 561.76,251.84 556.02,244.05 550.11,236.25 544.05,228.46 537.83,220.66 531.48,212.86 525.00,205.07 518.41,197.27 511.72,189.48 504.95,181.68 498.12,173.89 491.23,166.09 484.32,158.29 477.38,150.50 470.43,142.70 463.49,134.91 456.57,127.11 449.69,119.31 442.84,111.52 436.04,103.72 429.30,95.93 422.62,88.13 416.01,80.33 409.47,72.54 403.01,64.74 396.63,56.95 390.34,49.15" stroke="#8080dc" stroke-width="0.72"/>
<polyline points="712.43,665.03 711.61,657.23 710.79,649.44 709.96,641.64 709.13,633.85 708.29,626.05 707.45,618.25 706.59,610.46 705.73,602.66 704.85,594.87 703.96,587.07 703.06,579.27 702.14,571.48 701.20,563.68 700.24,555.89 699.27,548.09 698.27,540.29 697.25,532.50 696.21,524.70 695.14,516.91 694.03,509.11 692.90,501.32 691.74,493.52 690.54,485.72 689.30,477.93 688.02,470.13 686.69,462.34 685.33,454.54 683.91,446.74 682.44,438.95 680.92,431.15 679.34,423.36 677.69,415.56 675.99,407.76 674.21,399.97 672.36,392.17 670.43,384.38 668.42,376.58 666.32,368.78 664.13,360.99 661.85,353.19 659.46,345.40 656.96,337.60 654.35,329.80 651.63,322.01 648.77,314.21 645.79,306.42 642.66,298.62 639.40,290.82 635.98,283.03 632.41,275.23 628.67,267.44 624.77,259.64 620.69,251.84 616.43,244.05 612.00,236.25 607.37,228.46 602.57,220.66 597.57,212.86 592.39,205.07 587.02,197.27 581.47,189.48 575.75,181.68 569.87,173.89 563.82,166.09 557.64,158.29 551.32,150.50 544.88,142.70 538.34,134.91 531.71,127.11 525.00,119.31 518.25,111.52 511.45,103.72 504.63,95.93 497.80,88.13 490.97,80.33 484.16,72.54 477.38,64.74 470.63,56.95 463.93,49.15" stroke="#8080dc" stroke-width="0.72"/>
<polyline points="730.00,665.03 729.37,657.23 728.74,649.44 728.12,641.64 727.49,633.85 726.87,626.05 726.24,618.25 725.61,610.46 724.98,602.66 724.34,594.87 723.70,587.07 723.05,579.27 722.40,571.48 721.74,563.68 721.06,555.89 720.38,548.09 719.69,540.29 718.98,532.50 718.26,524.70 717.52,516.91 716.77,509.11 716.00,501.32 715.21,493.52 714.39,485.72 713.56,477.93 712.69,470.13 711.80,462.34 710.89,454.54 709.94,446.74 708.96,438.95 707.94,431.15 706.88,423.36 705.79,415.56 704.65,407.76 703.47,399.97 702.24,392.17 700.96,384.38 699.62,376.58 698.23,368.78 696.77,360.99 695.25,353.19 693.67,345.40 692.01,337.60 690.27,329.80 688.45,322.01 686.55,314.21 684.55,306.42 682.46,298.62 680.27,290.82 677.97,283.03 675.55,275.23 673.02,267.44 670.36,259.64 667.58,251.84 664.65,244.05 661.58,236.25 658.36,228.46 654.98,220.66 651.44,212.86 647.73,205.07 643.84,197.27 639.78,189.48 635.53,181.68 631.09,173.89 626.46,166.09 621.64,158.29 616.64,150.50 611.44,142.70 606.06,134.91 600.50,127.11 594.76,119.31 588.87,111.52 582.83,103.72 576.64,95.93 570.34,88.13 563.93,80.33 557.42,72.54 550.84,64.74 544.20,56.95 537.52,49.15" stroke="#8080dc" stroke-width="0.72"/>
<polyline points="746.45,665.03 745.98,657.23 745.51,649.44 745.06,641.64 744.60,633.85 744.15,626.05 743.71,618.25 743.26,610.46 742.82,602.66 742.38,594.87 741.95,587.07 741.51,579.27 741.07,571.48 740.63,563.68 740.19,555.89 739.74,548.09 739.29,540.29 738.84,532.50 738.37,524.70 737.91,516.91 737.43,509.11 736.94,501.32 736.45,493.52 735.94,485.72 735.42,477.93 734.89,470.13 734.34,462.34 733.77,454.54 733.19,446.74 732.58,438.95 731.96,431.15 731.31,423.36 730.64,415.56 729.94,407.76 729.22,399.97 728.46,392.17 727.67,384.38 726.85,376.58 725.99,368.78 725.09,360.99 724.16,353.19 723.17,345.40 722.14,337.60 721.06,329.80 719.93,322.01 718.74,314.21 717.50,306.42 716.19,298.62 714.81,290.82 713.36,283.03 711.84,275.23 710.24,267.44 708.55,259.64 706.78,251.84 704.91,244.05 702.95,236.25 700.87,228.46 698.69,220.66 696.39,212.86 693.97,205.07 691.42,197.27 688.74,189.48 685.91,181.68 682.93,173.89 679.80,166.09 676.50,158.29 673.04,150.50 669.40,142.70 665.58,134.91 661.58,127.11 657.39,119.31 653.00,111.52 648.42,103.72 643.65,95.93 638.68,88.13 633.52,80.33 628.18,72.54 622.65,64.74 616.96,56.95 611.11,49.15" stroke="#8080dc" stroke-width="0.72"/>
<polyline points="434.53,470.70 430.22,480.93 425.92,491.16 421.63,501.38 417.36,511.61 413.09,521.84 408.84,532.07 404.61,542.29 400.38,552.52 396.17,562.75 391.97,572.98 387.78,583.21 383.61,593.43 379.45,603.66 375.30,613.89 371.16,624.12 367.04,634.35 362.94,644.57 358.84,654.80 354.76,665.03" stroke="#459645" stroke-width="1.0" stroke-dasharray="1.04 1.72"/>
<polyline points="490.86,470.70 486.78,480.93 482.70,491.16 478.65,501.38 474.60,511.61 470.57,521.84 466.56,532.07 462.56,542.29 458.57,552.52 454.60,562.75 450.64,572.98 446.69,583.21 442.76,593.43 438.85,603.66 434.95,613.89 431.06,624.12 427.19,634.35 423.33,644.57 419.49,654.80 415.67,665.03" stroke="#459645" stroke-width="1.0" stroke-dasharray="1.04 1.72"/>
<polyline points="551.29,470.70 547.46,480.93 543.65,491.16 539.85,501.38 536.06,511.61 532.29,521.84 528.54,532.07 524.80,542.29 521.08,552.52 517.37,562.75 513.68,572.98 510.01,583.21 506.35,593.43 502.71,603.66 499.09,613.89 495.48,624.12 491.89,634.35 488.31,644.57 484.75,654.80 481.21,665.03" stroke="#459645" stroke-width="1.0" stroke-dasharray="1.04 1.72"/>
<polyline points="588.68,470.70 585.01,480.93 581.36,491.16 577.72,501.38 574.10,511.61 570.50,521.84 566.91,532.07 563.34,542.29 559.79,552.52 556.25,562.75 552.73,572.98 549.23,583.21 545.75,593.43 542.28,603.66 538.83,613.89 535.40,624.12 531.99,634.35 528.59,644.57 525.22,654.80 521.86,665.03" stroke="#459645" stroke-width="1.0" stroke-dasharray="1.04 1.72"/>
<polyline points="616.15,470.70 612.60,480.93 609.07,491.16 605.56,501.38 602.06,511.61 598.58,521.84 595.12,532.07 591.68,542.29 588.25,552.52 584.84,562.75 581.45,572.98 578.08,583.21 574.73,593.43 571.39,603.66 568.07,613.89 564.78,624.12 561.50,634.35 558.24,644.57 554.99,654.80 551.77,665.03" stroke="#459645" stroke-width="1.0" stroke-dasharray="1.04 1.72"/>
<polyline points="638.00,470.70 634.55,480.93 631.12,491.16 627.71,501.38 624.31,511.61 620.93,521.84 617.57,532.07 614.23,542.29 610.90,552.52 607.60,562.75 604.31,572.98 601.05,583.21 597.80,593.43 594.57,603.66 591.36,613.89 588.17,624.12 585.00,634.35 581.85,644.57 578.71,654.80 575.60,665.03" stroke="#459645" stroke-width="1.0" stroke-dasharray="1.04 1.72"/>
<polyline points="664.31,470.70 660.98,480.93 657.67,491.16 654.37,501.38 651.10,511.61 647.84,521.84 644.61,532.07 641.39,542.29 638.19,552.52 635.01,562.75 631.85,572.98 628.71,583.21 625.59,593.43 622.49,603.66 619.41,613.89 616.35,624.12 613.32,634.35 610.30,644.57 607.30,654.80 604.32,665.03" stroke="#459645" stroke-width="1.0" stroke-dasharray="1.04 1.72"/>
<polyline points="685.60,470.70 682.36,480.93 679.15,491.16 675.95,501.38 672.78,511.61 669.62,521.84 666.49,532.07 663.37,542.29 660.28,552.52 657.20,562.75 654.15,572.98 651.11,583.21 648.10,593.43 645.10,603.66 642.13,613.89 639.18,624.12 636.25,634.35 633.34,644.57 630.45,654.80 627.59,665.03" stroke="#459645" stroke-width="1.0" stroke-dasharray="1.04 1.72"/>
<polyline points="708.92,470.70 705.79,480.93 702.69,491.16 699.60,501.38 696.54,511.61 693.49,521.84 690.47,532.07 687.47,542.29 684.49,552.52 681.53,562.75 678.59,572.98 675.67,583.21 672.77,593.43 669.90,603.66 667.04,613.89 664.21,624.12 661.40,634.35 658.62,644.57 655.85,654.80 653.11,665.03" stroke="#459645" stroke-width="1.0" stroke-dasharray="1.04 1.72"/>
<polyline points="728.30,470.70 725.27,480.93 722.26,491.16 719.26,501.38 716.29,511.61 713.34,521.84 710.41,532.07 707.51,542.29 704.62,552.52 701.76,562.75 698.91,572.98 696.09,583.21 693.30,593.43 690.52,603.66 687.77,613.89 685.04,624.12 682.33,634.35 679.64,644.57 676.98,654.80 674.34,665.03" stroke="#459645" stroke-width="1.0" stroke-dasharray="1.04 1.72"/>
<polyline points="752.41,470.70 749.49,480.93 746.59,491.16 743.72,501.38 740.86,511.61 738.03,521.84 735.22,532.07 732.43,542.29 729.67,552.52 726.93,562.75 724.21,572.98 721.51,583.21 718.84,593.43 716.19,603.66 713.56,613.89 710.96,624.12 708.38,634.35 705.82,644.57 703.29,654.80 700.78,665.03" stroke="#459645" stroke-width="1.0" stroke-dasharray="1.04 1.72"/>
<polyline points="772.39,470.70 769.57,480.93 766.77,491.16 763.99,501.38 761.23,511.61 758.50,521.84 755.79,532.07 753.11,542.29 750.44,552.52 747.80,562.75 745.19,572.98 742.59,583.21 740.02,593.43 737.48,603.66 734.96,613.89 732.46,624.12 729.99,634.35 727.54,644.57 725.12,654.80 722.72,665.03" stroke="#459645" stroke-width="1.0" stroke-dasharray="1.04 1.72"/>
</g>
<g clip-path="url(#cm)">
<text x="434.53" y="468.00" font-family="DejaVu Sans, Liberation Sans, sans-serif" font-size="8.33" text-anchor="middle" font-weight="normal" fill="#5a9e5a" >1</text>
<text x="490.86" y="468.00" font-family="DejaVu Sans, Liberation Sans, sans-serif" font-size="8.33" text-anchor="middle" font-weight="normal" fill="#5a9e5a" >2</text>
<text x="551.29" y="468.00" font-family="DejaVu Sans, Liberation Sans, sans-serif" font-size="8.33" text-anchor="middle" font-weight="normal" fill="#5a9e5a" >4</text>
<text x="588.68" y="468.00" font-family="DejaVu Sans, Liberation Sans, sans-serif" font-size="8.33" text-anchor="middle" font-weight="normal" fill="#5a9e5a" >6</text>
<text x="616.15" y="468.00" font-family="DejaVu Sans, Liberation Sans, sans-serif" font-size="8.33" text-anchor="middle" font-weight="normal" fill="#5a9e5a" >8</text>
<text x="638.00" y="468.00" font-family="DejaVu Sans, Liberation Sans, sans-serif" font-size="8.33" text-anchor="middle" font-weight="normal" fill="#5a9e5a" >10</text>
<text x="664.31" y="468.00" font-family="DejaVu Sans, Liberation Sans, sans-serif" font-size="8.33" text-anchor="middle" font-weight="normal" fill="#5a9e5a" >13</text>
<text x="685.60" y="468.00" font-family="DejaVu Sans, Liberation Sans, sans-serif" font-size="8.33" text-anchor="middle" font-weight="normal" fill="#5a9e5a" >16</text>
<text x="708.92" y="468.00" font-family="DejaVu Sans, Liberation Sans, sans-serif" font-size="8.33" text-anchor="middle" font-weight="normal" fill="#5a9e5a" >20</text>
<text x="728.30" y="468.00" font-family="DejaVu Sans, Liberation Sans, sans-serif" font-size="8.33" text-anchor="middle" font-weight="normal" fill="#5a9e5a" >24</text>
<text x="752.41" y="468.00" font-family="DejaVu Sans, Liberation Sans, sans-serif" font-size="8.33" text-anchor="middle" font-weight="normal" fill="#5a9e5a" >30</text>
<text x="772.39" y="468.00" font-family="DejaVu Sans, Liberation Sans, sans-serif" font-size="8.33" text-anchor="middle" font-weight="normal" fill="#5a9e5a" >36</text>
</g>
<g clip-path="url(#cm)" fill="none" stroke-linejoin="round">
<polyline points="452.70,49.40 436.00,107.60 425.50,155.40 387.60,230.00 389.10,260.60 398.30,288.80 405.40,312.70 418.80,336.80 433.50,358.20 445.80,380.60 470.70,417.00 486.70,449.10 493.50,462.80 500.00,480.10 510.60,512.00 520.20,539.80 523.00,558.60 518.10,570.00 515.80,576.00 516.80,585.00 549.50,601.00 557.50,610.10 564.00,624.10 548.60,631.50 548.60,638.20 555.30,645.10 546.80,649.10" stroke="#0000ff" stroke-width="1.4"/>
<polyline points="308.00,49.40 280.20,106.30 265.20,155.10 278.10,190.00 291.30,230.00 271.70,260.20 261.80,288.80 272.10,313.00 281.00,340.00 293.20,377.40 311.30,412.30 316.00,427.70 317.10,443.30 313.70,460.00 312.80,482.50 330.10,494.10 345.50,506.80 362.20,518.20 372.90,528.90 380.70,540.00 396.20,558.40 377.80,567.40 366.70,576.10 396.80,584.40 490.00,593.00 534.10,601.40 544.80,608.80 552.20,624.10 518.10,631.20 520.50,637.50 536.80,644.20 539.20,649.50" stroke="#009900" stroke-width="3.05"/>
<polyline points="453.90,49.40 437.30,107.60 426.80,155.40 409.00,190.00 388.70,230.00 390.80,260.60 400.40,288.80 410.10,312.70 424.80,336.80 440.20,357.50 461.00,384.90 490.90,420.00 500.00,430.90 520.20,454.20 543.30,482.70 568.30,527.00 576.90,538.70 583.30,558.60 581.60,570.00 576.30,583.40 569.30,592.70 567.20,601.40 577.60,618.10 580.90,630.80 578.00,645.10 557.30,648.90" stroke="#ff0000" stroke-width="3.05"/>
</g>
<text x="537.40" y="659.40" font-family="DejaVu Sans, Liberation Sans, sans-serif" font-size="10.40" text-anchor="middle" font-weight="bold" fill="#009900" >46F</text>
<text x="558.80" y="659.40" font-family="DejaVu Sans, Liberation Sans, sans-serif" font-size="10.40" text-anchor="middle" font-weight="bold" fill="#ff0000" >51F</text>
<rect x="188.50" y="49.50" width="638.00" height="616.00" fill="none" stroke="#000" stroke-width="1.1"/>
<path d="M188.50 665.50v5.3M188.50 49.50v-5.3M259.50 665.50v5.3M259.50 49.50v-5.3M330.50 665.50v5.3M330.50 49.50v-5.3M401.50 665.50v5.3M401.50 49.50v-5.3M472.50 665.50v5.3M472.50 49.50v-5.3M542.50 665.50v5.3M542.50 49.50v-5.3M613.50 665.50v5.3M613.50 49.50v-5.3M684.50 665.50v5.3M684.50 49.50v-5.3M755.50 665.50v5.3M755.50 49.50v-5.3M826.50 665.50v5.3M826.50 49.50v-5.3M188.50 49.50h-5.3M826.50 49.50h5.3M188.50 155.50h-5.3M826.50 155.50h5.3M188.50 230.50h-5.3M826.50 230.50h5.3M188.50 289.50h-5.3M826.50 289.50h5.3M188.50 336.50h-5.3M826.50 336.50h5.3M188.50 377.50h-5.3M826.50 377.50h5.3M188.50 412.50h-5.3M826.50 412.50h5.3M188.50 443.50h-5.3M826.50 443.50h5.3M188.50 470.50h-5.3M826.50 470.50h5.3M188.50 495.50h-5.3M826.50 495.50h5.3M188.50 518.50h-5.3M826.50 518.50h5.3M188.50 539.50h-5.3M826.50 539.50h5.3M188.50 558.50h-5.3M826.50 558.50h5.3M188.50 576.50h-5.3M826.50 576.50h5.3M188.50 593.50h-5.3M826.50 593.50h5.3M188.50 609.50h-5.3M826.50 609.50h5.3M188.50 624.50h-5.3M826.50 624.50h5.3M188.50 638.50h-5.3M826.50 638.50h5.3M188.50 652.50h-5.3M826.50 652.50h5.3M188.50 665.50h-5.3M826.50 665.50h5.3" stroke="#000" stroke-width="1.1" fill="none"/>
<text x="188.50" y="685.30" font-family="DejaVu Sans, Liberation Sans, sans-serif" font-size="13.89" text-anchor="middle" font-weight="normal" fill="#000"  textLength="28.11" lengthAdjust="spacingAndGlyphs">−40</text>
<text x="259.39" y="685.30" font-family="DejaVu Sans, Liberation Sans, sans-serif" font-size="13.89" text-anchor="middle" font-weight="normal" fill="#000"  textLength="28.11" lengthAdjust="spacingAndGlyphs">−30</text>
<text x="330.28" y="685.30" font-family="DejaVu Sans, Liberation Sans, sans-serif" font-size="13.89" text-anchor="middle" font-weight="normal" fill="#000"  textLength="28.11" lengthAdjust="spacingAndGlyphs">−20</text>
<text x="401.17" y="685.30" font-family="DejaVu Sans, Liberation Sans, sans-serif" font-size="13.89" text-anchor="middle" font-weight="normal" fill="#000"  textLength="28.11" lengthAdjust="spacingAndGlyphs">−10</text>
<text x="472.06" y="685.30" font-family="DejaVu Sans, Liberation Sans, sans-serif" font-size="13.89" text-anchor="middle" font-weight="normal" fill="#000"  textLength="8.47" lengthAdjust="spacingAndGlyphs">0</text>
<text x="542.94" y="685.30" font-family="DejaVu Sans, Liberation Sans, sans-serif" font-size="13.89" text-anchor="middle" font-weight="normal" fill="#000"  textLength="16.95" lengthAdjust="spacingAndGlyphs">10</text>
<text x="613.83" y="685.30" font-family="DejaVu Sans, Liberation Sans, sans-serif" font-size="13.89" text-anchor="middle" font-weight="normal" fill="#000"  textLength="16.95" lengthAdjust="spacingAndGlyphs">20</text>
<text x="684.72" y="685.30" font-family="DejaVu Sans, Liberation Sans, sans-serif" font-size="13.89" text-anchor="middle" font-weight="normal" fill="#000"  textLength="16.95" lengthAdjust="spacingAndGlyphs">30</text>
<text x="755.61" y="685.30" font-family="DejaVu Sans, Liberation Sans, sans-serif" font-size="13.89" text-anchor="middle" font-weight="normal" fill="#000"  textLength="16.95" lengthAdjust="spacingAndGlyphs">40</text>
<text x="826.50" y="685.30" font-family="DejaVu Sans, Liberation Sans, sans-serif" font-size="13.89" text-anchor="middle" font-weight="normal" fill="#000"  textLength="16.95" lengthAdjust="spacingAndGlyphs">50</text>
<text x="177.80" y="54.45" font-family="DejaVu Sans, Liberation Sans, sans-serif" font-size="13.89" text-anchor="end" font-weight="normal" fill="#000"  textLength="25.56" lengthAdjust="spacingAndGlyphs">100</text>
<text x="177.80" y="235.45" font-family="DejaVu Sans, Liberation Sans, sans-serif" font-size="13.89" text-anchor="end" font-weight="normal" fill="#000"  textLength="25.56" lengthAdjust="spacingAndGlyphs">200</text>
<text x="177.80" y="341.45" font-family="DejaVu Sans, Liberation Sans, sans-serif" font-size="13.89" text-anchor="end" font-weight="normal" fill="#000"  textLength="25.56" lengthAdjust="spacingAndGlyphs">300</text>
<text x="177.80" y="417.45" font-family="DejaVu Sans, Liberation Sans, sans-serif" font-size="13.89" text-anchor="end" font-weight="normal" fill="#000"  textLength="25.56" lengthAdjust="spacingAndGlyphs">400</text>
<text x="177.80" y="475.45" font-family="DejaVu Sans, Liberation Sans, sans-serif" font-size="13.89" text-anchor="end" font-weight="normal" fill="#000"  textLength="25.56" lengthAdjust="spacingAndGlyphs">500</text>
<text x="177.80" y="523.45" font-family="DejaVu Sans, Liberation Sans, sans-serif" font-size="13.89" text-anchor="end" font-weight="normal" fill="#000"  textLength="25.56" lengthAdjust="spacingAndGlyphs">600</text>
<text x="177.80" y="563.45" font-family="DejaVu Sans, Liberation Sans, sans-serif" font-size="13.89" text-anchor="end" font-weight="normal" fill="#000"  textLength="25.56" lengthAdjust="spacingAndGlyphs">700</text>
<text x="177.80" y="598.45" font-family="DejaVu Sans, Liberation Sans, sans-serif" font-size="13.89" text-anchor="end" font-weight="normal" fill="#000"  textLength="25.56" lengthAdjust="spacingAndGlyphs">800</text>
<text x="177.80" y="629.45" font-family="DejaVu Sans, Liberation Sans, sans-serif" font-size="13.89" text-anchor="end" font-weight="normal" fill="#000"  textLength="25.56" lengthAdjust="spacingAndGlyphs">900</text>
<text x="177.80" y="657.45" font-family="DejaVu Sans, Liberation Sans, sans-serif" font-size="13.89" text-anchor="end" font-weight="normal" fill="#000"  textLength="34.07" lengthAdjust="spacingAndGlyphs">1000</text>
<text x="507.50" y="706.00" font-family="DejaVu Sans, Liberation Sans, sans-serif" font-size="16.67" text-anchor="middle" font-weight="normal" fill="#000" >Temperature (°C)</text>
<text transform="translate(134.3,357.4) rotate(-90)" font-family="DejaVu Sans, Liberation Sans, sans-serif" font-size="16.67" text-anchor="middle">Pressure (hPa)</text>
<text x="507.50" y="39.80" font-family="DejaVu Sans, Liberation Sans, sans-serif" font-size="13.89" text-anchor="middle" font-weight="bold" fill="#000" >HRRR Sounding at KDKB Init: 07z Oct 11 [F001] valid 08z Oct 11 2025</text>
<rect x="42.6" y="63.5" width="127.7" height="96.9" rx="2.2" ry="2.2" fill="#fff" fill-opacity="0.8" stroke="#cccccc" stroke-width="1.1"/>
<line x1="47.5" y1="72.40" x2="69.5" y2="72.40" stroke="#459645" stroke-width="1.0" stroke-dasharray="1.04 1.72"/>
<text x="78.40" y="76.00" font-family="DejaVu Sans, Liberation Sans, sans-serif" font-size="11.11" text-anchor="start" font-weight="normal" fill="#000"  textLength="79.31" lengthAdjust="spacingAndGlyphs">Sat. Mix. Ratio</text>
<line x1="47.5" y1="87.70" x2="69.5" y2="87.70" stroke="#d4737a" stroke-width="0.72"/>
<text x="78.40" y="91.00" font-family="DejaVu Sans, Liberation Sans, sans-serif" font-size="11.11" text-anchor="start" font-weight="normal" fill="#000"  textLength="71.58" lengthAdjust="spacingAndGlyphs">Dry Adiabats</text>
<line x1="47.5" y1="103.40" x2="69.5" y2="103.40" stroke="#8080dc" stroke-width="0.72"/>
<text x="78.40" y="107.00" font-family="DejaVu Sans, Liberation Sans, sans-serif" font-size="11.11" text-anchor="start" font-weight="normal" fill="#000"  textLength="86.55" lengthAdjust="spacingAndGlyphs">Pseudoadiabats</text>
<line x1="47.5" y1="119.20" x2="69.5" y2="119.20" stroke="#0000ff" stroke-width="1.4"/>
<text x="78.40" y="123.00" font-family="DejaVu Sans, Liberation Sans, sans-serif" font-size="11.11" text-anchor="start" font-weight="normal" fill="#000"  textLength="43.83" lengthAdjust="spacingAndGlyphs">Wetbulb</text>
<line x1="47.5" y1="134.50" x2="69.5" y2="134.50" stroke="#009900" stroke-width="3" stroke-linecap="square"/>
<text x="78.40" y="138.00" font-family="DejaVu Sans, Liberation Sans, sans-serif" font-size="11.11" text-anchor="start" font-weight="normal" fill="#000"  textLength="51.75" lengthAdjust="spacingAndGlyphs">Dewpoint</text>
<line x1="47.5" y1="150.40" x2="69.5" y2="150.40" stroke="#ff0000" stroke-width="3" stroke-linecap="square"/>
<text x="78.40" y="154.00" font-family="DejaVu Sans, Liberation Sans, sans-serif" font-size="11.11" text-anchor="start" font-weight="normal" fill="#000"  textLength="68.47" lengthAdjust="spacingAndGlyphs">Temperature</text>
<rect x="36.2" y="49.4" width="1.7" height="2.7" fill="#7f7f7f"/>
<rect x="36.05" y="103.90" width="2.20" height="5.60" fill="#7f7f7f"/>
<rect x="36.25" y="151.20" width="2.00" height="6.50" fill="#7f7f7f"/>
<rect x="37.25" y="192.03" width="1.00" height="5.60" fill="#7f7f7f"/>
<rect x="38.25" y="226.90" width="1.00" height="5.80" fill="#f8e11a"/>
<rect x="38.25" y="257.55" width="3.90" height="6.20" fill="#f8e11a"/>
<rect x="38.25" y="285.00" width="4.80" height="6.50" fill="#f9dc1a"/>
<rect x="38.25" y="309.71" width="6.80" height="7.00" fill="#fcd116"/>
<rect x="38.25" y="332.50" width="7.80" height="7.00" fill="#fcc920"/>
<rect x="38.25" y="353.47" width="9.90" height="7.00" fill="#fdbf20"/>
<rect x="38.25" y="372.88" width="9.90" height="7.00" fill="#fdbf20"/>
<rect x="38.25" y="390.95" width="6.80" height="7.00" fill="#fcd116"/>
<rect x="38.25" y="407.85" width="3.90" height="7.00" fill="#f8e11a"/>
<rect x="38.25" y="423.73" width="0.80" height="7.00" fill="#f8e11a"/>
<rect x="36.15" y="438.70" width="2.10" height="7.00" fill="#7f7f7f"/>
<rect x="34.25" y="452.86" width="4.00" height="7.00" fill="#7f7f7f"/>
<rect x="34.45" y="466.30" width="3.80" height="7.00" fill="#7f7f7f"/>
<rect x="34.45" y="479.08" width="3.80" height="7.00" fill="#7f7f7f"/>
<rect x="35.35" y="491.26" width="2.90" height="7.00" fill="#7f7f7f"/>
<rect x="35.35" y="502.91" width="2.90" height="7.00" fill="#7f7f7f"/>
<rect x="35.35" y="514.05" width="2.90" height="7.00" fill="#7f7f7f"/>
<rect x="35.35" y="524.75" width="2.90" height="7.00" fill="#7f7f7f"/>
<rect x="35.35" y="535.02" width="2.90" height="7.00" fill="#7f7f7f"/>
<rect x="35.35" y="544.90" width="2.90" height="7.00" fill="#7f7f7f"/>
<rect x="36.15" y="554.43" width="2.10" height="7.00" fill="#7f7f7f"/>
<rect x="37.35" y="563.62" width="0.90" height="7.00" fill="#7f7f7f"/>
<rect x="37.35" y="581.09" width="0.90" height="7.00" fill="#7f7f7f"/>
<rect x="35.35" y="589.40" width="2.90" height="7.00" fill="#7f7f7f"/>
<rect x="33.35" y="597.46" width="4.90" height="7.00" fill="#7f7f7f"/>
<rect x="31.25" y="605.28" width="7.00" height="7.00" fill="#7f7f7f"/>
<rect x="31.25" y="612.88" width="7.00" height="7.00" fill="#7f7f7f"/>
<rect x="32.25" y="620.25" width="6.00" height="7.00" fill="#7f7f7f"/>
<rect x="35.3" y="628" width="2.95" height="19.8" fill="#7f7f7f"/>
<line x1="23.2" y1="439.30" x2="99.0" y2="439.30" stroke="#ff0000" stroke-width="2.3" stroke-dasharray="7.9 3.27"/>
<line x1="23.2" y1="466.30" x2="99.0" y2="466.30" stroke="#ff0000" stroke-width="2.3" stroke-dasharray="7.9 3.27"/>
<text x="99.80" y="434.60" font-family="DejaVu Sans, Liberation Sans, sans-serif" font-size="10.40" text-anchor="end" font-weight="bold" fill="#ff0000"  textLength="26.17" lengthAdjust="spacingAndGlyphs">DGZ</text>
<text x="99.80" y="479.50" font-family="DejaVu Sans, Liberation Sans, sans-serif" font-size="10.40" text-anchor="end" font-weight="bold" fill="#ff0000"  textLength="26.17" lengthAdjust="spacingAndGlyphs">DGZ</text>
<line x1="38.40" y1="665.3" x2="38.40" y2="670.2" stroke="#000" stroke-width="1.1"/>
<text x="38.40" y="681.90" font-family="DejaVu Sans, Liberation Sans, sans-serif" font-size="10.40" text-anchor="middle" font-weight="normal" fill="#000" >0</text>
<line x1="69.50" y1="665.3" x2="69.50" y2="670.2" stroke="#000" stroke-width="1.1"/>
<text x="69.50" y="681.90" font-family="DejaVu Sans, Liberation Sans, sans-serif" font-size="10.40" text-anchor="middle" font-weight="normal" fill="#000" >−1</text>
<line x1="100.50" y1="665.3" x2="100.50" y2="670.2" stroke="#000" stroke-width="1.1"/>
<text x="100.50" y="681.90" font-family="DejaVu Sans, Liberation Sans, sans-serif" font-size="10.40" text-anchor="middle" font-weight="normal" fill="#000" >−2</text>
<text x="70.00" y="703.30" font-family="DejaVu Sans, Liberation Sans, sans-serif" font-size="13.89" text-anchor="middle" font-weight="normal" fill="#000" >Omega (Pa/s)</text>
<path d="M855.53 57.67L838.97 38.93M838.97 38.93L844.40 29.97M841.04 41.27L846.47 32.31M843.11 43.62L848.54 34.65M845.18 45.96L847.89 41.48M855.29 116.32L839.21 97.18M839.21 97.18L844.86 88.35M841.22 99.57L846.87 90.75M843.23 101.96L848.88 93.14M845.24 104.36L850.89 95.53M847.25 106.75L850.07 102.34M853.25 165.61L841.25 143.69M841.25 143.69L848.52 136.14M842.75 146.43L850.02 138.88M844.25 149.17L851.52 141.62M845.75 151.91L853.02 144.37M847.25 154.65L850.89 150.88M852.44 206.47L842.06 183.73M853.25 241.01L841.25 219.09M853.61 270.96L840.89 249.44M840.89 249.44L847.92 241.66M842.48 252.13L849.50 244.35M844.07 254.82L851.09 247.04M845.66 257.51L852.68 249.73M850.32 300.42L844.18 276.18M844.18 276.18L853.11 270.70M844.95 279.21L853.88 273.73M845.72 282.24L854.64 276.76M846.48 285.27L855.41 279.79M850.86 324.97L843.64 301.03M843.64 301.03L852.31 295.15M844.54 304.02L853.21 298.14M845.45 307.02L854.12 301.14M846.35 310.01L855.02 304.13M851.31 348.22L843.19 324.58M843.19 324.58L851.64 318.37M844.21 327.53L852.65 321.33M845.22 330.49L853.66 324.29M846.24 333.44L850.46 330.34M851.31 368.92L843.19 345.28M843.19 345.28L851.64 339.07M844.21 348.23L852.65 342.03M845.22 351.19L853.66 344.99M846.24 354.14L850.46 351.04M851.04 388.51L843.46 364.69M843.46 364.69L852.05 358.68M844.41 367.67L852.99 361.66M845.36 370.64L853.94 364.64M846.30 373.62L850.60 370.62M850.54 407.56L843.96 383.44M843.96 383.44L852.78 377.79M844.78 386.46L853.60 380.81M845.60 389.47L854.43 383.82M850.28 424.03L844.22 399.77M844.22 399.77L853.16 394.32M844.98 402.80L853.92 397.35M845.73 405.84L854.68 400.38M849.87 454.12L844.63 429.68M844.63 429.68L853.75 424.53M845.28 432.73L854.41 427.58M845.94 435.79L855.06 430.64M850.02 483.39L844.48 459.01M844.48 459.01L853.54 453.75M845.17 462.06L854.23 456.79M845.86 465.11L854.92 459.84M850.21 508.04L844.29 483.76M844.29 483.76L853.26 478.35M845.03 486.79L854.00 481.39M845.77 489.83L854.74 484.42M850.21 531.34L844.29 507.06M844.29 507.06L853.26 501.65M845.03 510.09L854.00 504.69M845.77 513.13L854.74 507.72M850.80 551.59L843.70 527.61M843.70 527.61L852.41 521.78M844.59 530.61L853.29 524.78M845.48 533.61L849.83 530.69M853.06 569.22L841.44 547.08M841.44 547.08L848.85 539.67M842.89 549.85L850.30 542.43M844.35 552.62L848.05 548.91M854.40 586.85L840.10 566.35M840.10 566.35L846.51 558.06M841.88 568.91L848.30 560.63M856.29 601.48L838.21 584.22M838.21 584.22L842.86 574.83M840.47 586.37L842.80 581.68M859.49 611.13L835.01 606.07M835.01 606.07L833.98 595.64M837.16 638.73L857.34 623.97M857.34 623.97L865.77 630.20M854.82 625.82L859.03 628.93M839.51 658.81L854.99 639.19M852.09 642.87L856.98 644.74" stroke="#000" stroke-width="0.95" fill="none" stroke-linecap="butt"/>
<path d="M842.06 183.73L852.45 182.42L844.65 189.41ZM841.25 219.09L851.52 217.02L844.25 224.57Z" stroke="#000" stroke-width="0.95" fill="#000" stroke-linejoin="miter"/>
<defs><clipPath id="ch"><rect x="876.50" y="49.40" width="220.10" height="188.10"/></clipPath></defs>
<g clip-path="url(#ch)" fill="none">
<ellipse cx="977.45" cy="80.60" rx="18.34" ry="15.67" stroke="#b0b0b0" stroke-width="1.0" stroke-dasharray="1.18 1.95"/>
<ellipse cx="977.45" cy="80.60" rx="36.68" ry="31.35" stroke="#b0b0b0" stroke-width="1.0" stroke-dasharray="1.18 1.95"/>
<ellipse cx="977.45" cy="80.60" rx="55.02" ry="47.02" stroke="#b0b0b0" stroke-width="1.0" stroke-dasharray="1.18 1.95"/>
<ellipse cx="977.45" cy="80.60" rx="73.36" ry="62.70" stroke="#b0b0b0" stroke-width="1.0" stroke-dasharray="1.18 1.95"/>
<ellipse cx="977.45" cy="80.60" rx="91.70" ry="78.38" stroke="#b0b0b0" stroke-width="1.0" stroke-dasharray="1.18 1.95"/>
<ellipse cx="977.45" cy="80.60" rx="110.04" ry="94.05" stroke="#b0b0b0" stroke-width="1.0" stroke-dasharray="1.18 1.95"/>
<ellipse cx="977.45" cy="80.60" rx="128.38" ry="109.72" stroke="#b0b0b0" stroke-width="1.0" stroke-dasharray="1.18 1.95"/>
<ellipse cx="977.45" cy="80.60" rx="146.72" ry="125.40" stroke="#b0b0b0" stroke-width="1.0" stroke-dasharray="1.18 1.95"/>
<ellipse cx="977.45" cy="80.60" rx="165.06" ry="141.07" stroke="#b0b0b0" stroke-width="1.0" stroke-dasharray="1.18 1.95"/>
<ellipse cx="977.45" cy="80.60" rx="183.40" ry="156.75" stroke="#b0b0b0" stroke-width="1.0" stroke-dasharray="1.18 1.95"/>
<ellipse cx="977.45" cy="80.60" rx="201.74" ry="172.42" stroke="#b0b0b0" stroke-width="1.0" stroke-dasharray="1.18 1.95"/>
<ellipse cx="977.45" cy="80.60" rx="220.08" ry="188.10" stroke="#b0b0b0" stroke-width="1.0" stroke-dasharray="1.18 1.95"/>
<line x1="876.50" y1="80.60" x2="1096.60" y2="80.60" stroke="#000" stroke-width="0.9"/>
<line x1="977.45" y1="49.40" x2="977.45" y2="237.50" stroke="#000" stroke-width="0.9"/>
</g>
<text x="959.00" y="96.95" font-family="DejaVu Sans, Liberation Sans, sans-serif" font-size="11.11" text-anchor="middle" font-weight="normal" fill="#808080" >5</text>
<text x="996.10" y="96.95" font-family="DejaVu Sans, Liberation Sans, sans-serif" font-size="11.11" text-anchor="middle" font-weight="normal" fill="#808080" >5</text>
<text x="939.50" y="96.95" font-family="DejaVu Sans, Liberation Sans, sans-serif" font-size="11.11" text-anchor="middle" font-weight="normal" fill="#808080" >10</text>
<text x="1014.70" y="96.95" font-family="DejaVu Sans, Liberation Sans, sans-serif" font-size="11.11" text-anchor="middle" font-weight="normal" fill="#808080" >10</text>
<text x="921.30" y="96.95" font-family="DejaVu Sans, Liberation Sans, sans-serif" font-size="11.11" text-anchor="middle" font-weight="normal" fill="#808080" >15</text>
<text x="1032.20" y="96.95" font-family="DejaVu Sans, Liberation Sans, sans-serif" font-size="11.11" text-anchor="middle" font-weight="normal" fill="#808080" >15</text>
<text x="903.40" y="96.95" font-family="DejaVu Sans, Liberation Sans, sans-serif" font-size="11.11" text-anchor="middle" font-weight="normal" fill="#808080" >20</text>
<text x="1050.30" y="96.95" font-family="DejaVu Sans, Liberation Sans, sans-serif" font-size="11.11" text-anchor="middle" font-weight="normal" fill="#808080" >20</text>
<text x="1068.50" y="96.95" font-family="DejaVu Sans, Liberation Sans, sans-serif" font-size="11.11" text-anchor="middle" font-weight="normal" fill="#808080" >25</text>
<g clip-path="url(#ch)" fill="none" stroke-linejoin="round" stroke-linecap="butt" stroke-width="2.3">
<polyline points="961.10,98.70 918.10,125.20 913.30,126.50 909.50,125.60 907.20,123.60 931.80,107.60 959.80,95.50 972.70,89.90 987.90,85.90 992.60,84.70 1003.00,85.20 1007.40,89.50 1010.80,100.00 1013.10,115.60 1013.60,122.20 1015.50,128.10 1017.80,133.00 1017.80,139.10 1016.10,146.00 1012.50,148.60" stroke="#ff0000"/>
<polyline points="1012.50,148.60 1007.90,151.50 1004.10,157.40 1003.50,161.80 1001.60,166.90 1000.60,172.50" stroke="#2a9a2a"/>
<polyline points="1000.60,172.50 1004.10,176.80 1007.50,177.60 1011.20,180.10 1013.60,185.00" stroke="#ba55d3"/>
<polyline points="1013.60,185.00 1014.90,191.20 1016.00,205.10 1049.90,189.40 1058.70,215.90" stroke="#1010ff"/>
</g>
<text x="989.60" y="88.50" font-family="DejaVu Sans, Liberation Sans, sans-serif" font-size="11.50" text-anchor="middle" font-weight="normal" fill="#000" stroke="#fff" stroke-width="2.6" paint-order="stroke" stroke-linejoin="round">1</text>
<text x="1013.40" y="126.40" font-family="DejaVu Sans, Liberation Sans, sans-serif" font-size="11.50" text-anchor="middle" font-weight="normal" fill="#000" stroke="#fff" stroke-width="2.6" paint-order="stroke" stroke-linejoin="round">2</text>
<text x="1011.70" y="152.50" font-family="DejaVu Sans, Liberation Sans, sans-serif" font-size="11.50" text-anchor="middle" font-weight="normal" fill="#000" stroke="#fff" stroke-width="2.6" paint-order="stroke" stroke-linejoin="round">3</text>
<text x="1000.60" y="177.40" font-family="DejaVu Sans, Liberation Sans, sans-serif" font-size="11.50" text-anchor="middle" font-weight="normal" fill="#000" stroke="#fff" stroke-width="2.6" paint-order="stroke" stroke-linejoin="round">6</text>
<text x="1013.50" y="189.80" font-family="DejaVu Sans, Liberation Sans, sans-serif" font-size="11.50" text-anchor="middle" font-weight="normal" fill="#000" stroke="#fff" stroke-width="2.6" paint-order="stroke" stroke-linejoin="round">9</text>
<circle cx="939.80" cy="148.50" r="8.80" fill="#fff" stroke="#000" stroke-width="1.4"/>
<text x="939.80" y="152.00" font-family="DejaVu Sans, Liberation Sans, sans-serif" font-size="9.60" text-anchor="middle" font-weight="normal" fill="#000" textLength="11.2" lengthAdjust="spacingAndGlyphs">RM</text>
<circle cx="1037.30" cy="110.40" r="8.70" fill="#fff" stroke="#000" stroke-width="1.4"/>
<text x="1037.30" y="113.90" font-family="DejaVu Sans, Liberation Sans, sans-serif" font-size="9.60" text-anchor="middle" font-weight="normal" fill="#000" textLength="11.2" lengthAdjust="spacingAndGlyphs">LM</text>
<rect x="876.50" y="49.40" width="220.10" height="188.10" fill="none" stroke="#000" stroke-width="1.1"/>
<text x="987.00" y="36.30" font-family="DejaVu Sans, Liberation Sans, sans-serif" font-size="15.28" text-anchor="middle" font-weight="bold" fill="#808080" >TROPICALTIDBITS.COM</text>
<text x="985.60" y="251.30" font-family="DejaVu Sans, Liberation Sans, sans-serif" font-size="11.11" text-anchor="middle" font-weight="normal" fill="#000" >Hodograph (wind in kt, height in km)</text>
<text x="876.50" y="285.80" font-family="DejaVu Sans Mono, Liberation Mono, monospace" font-size="13.89" fill="#000" xml:space="preserve">SRH 0-1km:       46 <tspan font-family="DejaVu Sans, sans-serif" font-style="italic">m</tspan><tspan font-family="DejaVu Sans, sans-serif" font-size="9.72" dy="-5.1">2</tspan><tspan font-family="DejaVu Sans, sans-serif" font-style="italic" dy="5.1">s</tspan><tspan font-family="DejaVu Sans, sans-serif" font-size="9.72" dy="-5.1">−2</tspan></text>
<text x="876.50" y="302.80" font-family="DejaVu Sans Mono, Liberation Mono, monospace" font-size="13.89" fill="#000" xml:space="preserve">SRH 0-3km:      187 <tspan font-family="DejaVu Sans, sans-serif" font-style="italic">m</tspan><tspan font-family="DejaVu Sans, sans-serif" font-size="9.72" dy="-5.1">2</tspan><tspan font-family="DejaVu Sans, sans-serif" font-style="italic" dy="5.1">s</tspan><tspan font-family="DejaVu Sans, sans-serif" font-size="9.72" dy="-5.1">−2</tspan></text>
<text x="876.50" y="321.60" font-family="DejaVu Sans Mono, Liberation Mono, monospace" font-size="13.89" fill="#000" xml:space="preserve">SBCAPE:           0 J/kg</text>
<text x="876.50" y="339.10" font-family="DejaVu Sans Mono, Liberation Mono, monospace" font-size="13.89" fill="#000" xml:space="preserve">MLCAPE:           0 J/kg</text>
<text x="876.50" y="356.60" font-family="DejaVu Sans Mono, Liberation Mono, monospace" font-size="13.89" fill="#000" xml:space="preserve">MUCAPE:           0 J/kg</text>
<text x="876.50" y="374.10" font-family="DejaVu Sans Mono, Liberation Mono, monospace" font-size="13.89" fill="#000" xml:space="preserve">SBCIN:            0 J/kg</text>
<text x="876.50" y="391.60" font-family="DejaVu Sans Mono, Liberation Mono, monospace" font-size="13.89" fill="#000" xml:space="preserve">MLCIN:            0 J/kg</text>
<text x="876.50" y="409.10" font-family="DejaVu Sans Mono, Liberation Mono, monospace" font-size="13.89" fill="#000" xml:space="preserve">DCAPE:            0 J/kg</text>
<text x="876.50" y="426.60" font-family="DejaVu Sans Mono, Liberation Mono, monospace" font-size="13.89" fill="#ad3946" xml:space="preserve">SHR 200-850mb:   45 kt</text>
<text x="876.50" y="444.10" font-family="DejaVu Sans Mono, Liberation Mono, monospace" font-size="13.89" fill="#96621c" xml:space="preserve">RH 300-850mb:    15 %</text>
<text x="876.50" y="461.60" font-family="DejaVu Sans Mono, Liberation Mono, monospace" font-size="13.89" fill="#000" xml:space="preserve">PWAT:          0.53 in</text>
<polyline points="1058.30,500.40 1050.40,506.10 1042.00,514.50 1033.50,525.70 1020.90,539.80 1011.10,549.60 1001.80,560.30 994.00,570.00 987.60,577.20 981.20,583.60 976.40,587.60 951.50,598.10 945.10,604.20 966.80,609.60 982.00,615.20 986.80,620.80 987.30,630.90 955.60,636.50 951.10,642.50 956.80,648.10 940.00,651.80" fill="none" stroke="#2e99b6" stroke-width="2.35" stroke-linejoin="round"/>
<rect x="892.40" y="500.40" width="204.30" height="164.90" fill="none" stroke="#000" stroke-width="1.1"/>
<path d="M892.40 522.10h5.1M892.40 566.30h5.1M892.40 610.50h5.1M892.40 654.70h5.1M924.60 665.30v-5.1M971.50 665.30v-5.1M1018.40 665.30v-5.1M1065.30 665.30v-5.1" stroke="#000" stroke-width="1.1" fill="none"/>
<text x="902.00" y="525.70" font-family="DejaVu Sans, Liberation Sans, sans-serif" font-size="10.20" text-anchor="start" font-weight="normal" fill="#000" >400</text>
<text x="902.00" y="569.90" font-family="DejaVu Sans, Liberation Sans, sans-serif" font-size="10.20" text-anchor="start" font-weight="normal" fill="#000" >600</text>
<text x="902.00" y="614.10" font-family="DejaVu Sans, Liberation Sans, sans-serif" font-size="10.20" text-anchor="start" font-weight="normal" fill="#000" >800</text>
<text x="924.60" y="655.70" font-family="DejaVu Sans, Liberation Sans, sans-serif" font-size="10.20" text-anchor="middle" font-weight="normal" fill="#000" >300</text>
<text x="971.50" y="655.70" font-family="DejaVu Sans, Liberation Sans, sans-serif" font-size="10.20" text-anchor="middle" font-weight="normal" fill="#000" >310</text>
<text x="1018.40" y="655.70" font-family="DejaVu Sans, Liberation Sans, sans-serif" font-size="10.20" text-anchor="middle" font-weight="normal" fill="#000" >320</text>
<text x="1065.30" y="655.70" font-family="DejaVu Sans, Liberation Sans, sans-serif" font-size="10.20" text-anchor="middle" font-weight="normal" fill="#000" >330</text>
<text transform="translate(884.4,583.3) rotate(-90)" font-family="DejaVu Sans, Liberation Sans, sans-serif" font-size="11.11" text-anchor="middle">Pressure (hPa)</text>
<text x="993.60" y="678.40" font-family="DejaVu Sans, Liberation Sans, sans-serif" font-size="11.11" text-anchor="middle" font-weight="normal" fill="#000" >Equivalent Pot. Temperature (K)</text>
</svg>
</body></html>
